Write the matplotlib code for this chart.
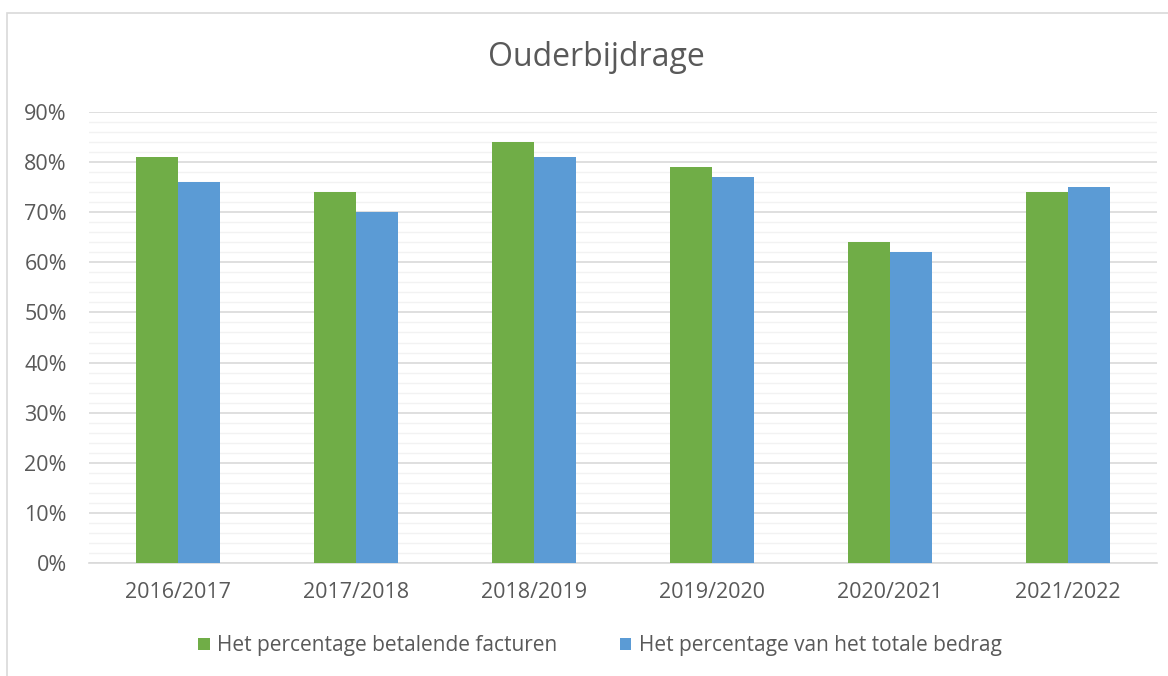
import numpy as np
import matplotlib.pyplot as plt
from matplotlib.patches import Rectangle
from matplotlib.ticker import MultipleLocator, PercentFormatter

jaren = ['2016/2017', '2017/2018', '2018/2019', '2019/2020', '2020/2021', '2021/2022']
facturen = [81, 74, 84, 79, 64, 74]
bedrag = [76, 70, 81, 77, 62, 75]

plt.rcParams['font.family'] = ['Open Sans', 'DejaVu Sans']
tekst = '#595959'

fig = plt.figure(figsize=(11.68, 6.76), dpi=100)
ax = fig.add_axes([89 / 1168, 1 - 563 / 676, (1157 - 89) / 1168, (563 - 112) / 676])

x = np.arange(len(jaren))
w = 0.236
ax.bar(x - w / 2, facturen, w, color='#70ad47', label='Het percentage betalende facturen', zorder=3)
ax.bar(x + w / 2, bedrag, w, color='#5b9bd5', label='Het percentage van het totale bedrag', zorder=3)

ax.set_xlim(-0.5, len(jaren) - 0.5)
ax.set_ylim(0, 90)
ax.yaxis.set_major_locator(MultipleLocator(10))
ax.yaxis.set_minor_locator(MultipleLocator(2))
ax.yaxis.set_major_formatter(PercentFormatter(decimals=0))
ax.grid(axis='y', which='major', color='#d9d9d9', linewidth=1.2, zorder=0)
ax.grid(axis='y', which='minor', color='#f2f2f2', linewidth=1.0, zorder=0)
ax.set_xticks(x, jaren)
ax.tick_params(axis='both', which='both', length=0, labelsize=15.5, colors=tekst)
ax.tick_params(axis='y', pad=16)
ax.tick_params(axis='x', pad=14)
for s in ['top', 'right', 'left']:
    ax.spines[s].set_visible(False)
ax.spines['bottom'].set_color('#d9d9d9')
ax.spines['bottom'].set_linewidth(1.2)

fig.text(596 / 1168, 1 - 58 / 676, 'Ouderbijdrage', ha='center', va='center', fontsize=23, color=tekst)

fig.legend(loc='center', bbox_to_anchor=(600 / 1168, 1 - 646 / 676), ncol=2, frameon=False,
           fontsize=15, labelcolor=tekst, handlelength=0.55, handleheight=0.55,
           handletextpad=0.35, columnspacing=3.0)

fig.patches.append(Rectangle((7 / 1168, -0.1), 1.2, 1.1 - 13 / 676, transform=fig.transFigure,
                             fill=False, edgecolor='#d9d9d9', linewidth=1.2))

fig.savefig('out.png', dpi=100)
